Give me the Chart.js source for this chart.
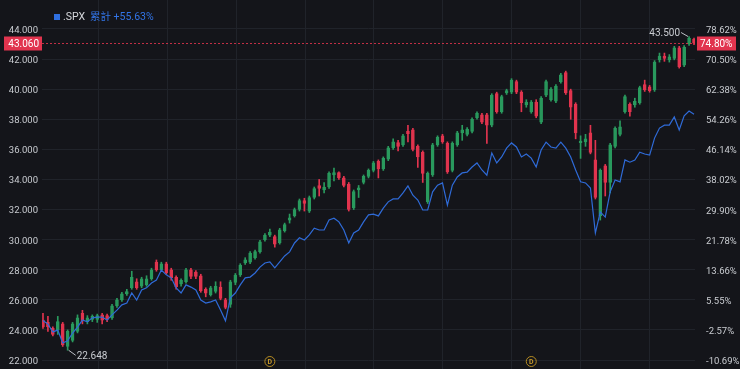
<!DOCTYPE html>
<html>
<head>
<meta charset="utf-8">
<script src="https://cdn.jsdelivr.net/npm/chart.js@4.4.1/dist/chart.umd.min.js"></script>
<style>
  html, body { margin: 0; padding: 0; background: #14151a; }
  #wrap { width: 740px; height: 369px; position: relative; }
</style>
</head>
<body>
<div id="wrap"><canvas id="kline"></canvas></div>
<script>
// weekly candles
const opens = [24.66,24.5,24.1,24.0,24.4,22.9,23.3,23.9,25.1,24.55,
  24.7,24.7,25.0,24.95,24.8,25.6,26.0,26.4,26.8,27.2,
  26.9,27.0,27.4,28.5,28.0,28.4,28.0,27.5,27.05,27.2,
  28.0,27.85,27.6,26.7,26.35,26.55,26.85,26.0,25.7,27.15,
  27.65,28.45,28.5,28.8,29.2,30.0,30.3,30.2,29.8,30.6,
  31.3,31.6,32.0,32.6,31.9,32.8,33.6,33.3,33.5,34.3,
  34.45,34.1,33.7,32.1,33.3,33.8,34.2,34.6,35.2,34.7,
  35.35,36.1,36.45,36.3,37.2,37.3,36.2,35.8,32.5,34.3,
  36.3,36.9,36.4,34.6,36.3,37.1,37.0,37.2,38.1,38.3,
  38.3,37.6,39.7,38.5,39.75,39.8,40.5,39.8,38.95,38.5,
  39.15,37.8,39.6,39.3,39.2,40.5,41.1,39.9,39.0,36.45,
  36.5,37.1,35.3,31.6,34.9,33.8,36.2,37.0,38.5,39.0,
  38.95,39.1,40.3,40.15,39.95,41.95,42.2,41.95,42.05,42.75,
  41.6,43.0,43.33];
const closes = [24.2,24.2,23.7,24.55,23.0,23.9,24.4,24.8,24.6,24.8,
  24.9,24.95,24.65,24.7,25.6,26.0,26.4,26.55,27.5,26.8,
  27.4,27.4,28.0,28.0,28.4,27.8,27.45,26.85,27.3,28.0,
  27.55,27.55,26.6,26.45,26.8,26.9,26.1,25.5,27.2,27.65,
  28.3,28.65,29.1,29.2,29.85,30.3,30.5,29.7,30.65,31.0,
  31.45,32.0,32.6,32.4,32.8,33.4,33.4,33.5,34.4,34.45,
  34.1,33.6,32.0,33.2,33.45,34.2,34.6,35.1,34.7,35.4,
  36.1,36.5,36.2,36.9,37.05,36.0,35.5,34.4,34.4,36.3,
  36.8,36.5,34.5,36.4,37.1,37.3,37.35,38.0,38.4,37.8,
  37.6,39.6,38.5,39.5,39.9,40.6,39.8,39.1,39.15,39.15,
  38.2,39.4,40.5,40.0,40.2,40.95,39.75,38.8,37.1,36.55,
  36.7,35.8,32.8,34.6,33.8,36.3,37.4,37.5,39.5,38.5,
  39.2,40.1,39.95,39.9,41.8,42.2,42.05,42.15,42.75,41.5,
  42.8,43.4,43.06];
const highs = [25.1,24.9,24.2,24.9,24.5,24.0,24.5,25.0,25.3,24.95,
  25.0,25.05,25.1,25.05,25.7,26.1,26.5,26.7,27.9,27.4,
  27.5,27.6,28.1,28.65,28.5,28.5,28.1,27.6,27.4,28.1,
  28.1,27.95,27.7,26.8,26.9,27.2,27.2,26.1,27.3,27.75,
  28.4,28.8,29.2,29.3,29.95,30.4,30.7,30.3,30.75,31.1,
  31.7,32.1,32.7,32.75,32.9,33.5,34.0,33.8,34.5,34.75,
  34.5,34.2,33.8,33.3,33.6,34.3,34.7,35.2,35.3,35.5,
  36.2,36.7,36.6,37.0,37.6,37.4,36.3,35.9,34.5,36.4,
  36.9,37.0,36.5,36.5,37.2,37.6,37.45,38.1,38.5,38.4,
  38.4,39.7,39.8,39.6,40.0,40.7,40.6,39.9,39.3,39.25,
  39.3,39.5,40.6,40.1,40.3,41.05,41.2,40.0,39.1,36.9,
  37.0,37.6,36.6,34.7,35.0,36.4,37.5,37.9,39.6,39.1,
  39.4,40.2,40.6,40.25,41.9,42.4,42.4,42.3,42.85,42.85,
  42.9,43.5,43.4];
const lows = [24.1,23.9,23.6,23.7,22.9,22.648,23.2,23.8,24.4,24.4,
  24.55,24.5,24.4,24.55,24.7,25.5,25.9,26.3,26.7,26.7,
  26.8,26.9,27.3,27.9,27.9,27.7,27.3,26.7,26.9,27.1,
  27.4,27.4,26.5,26.2,26.25,26.45,26.0,25.4,25.5,27.0,
  27.55,28.35,28.4,28.7,29.1,29.9,30.2,29.5,29.7,30.5,
  31.1,31.5,31.9,31.9,31.8,32.7,32.9,33.1,33.4,33.9,
  34.0,33.5,31.9,32.0,32.8,33.7,34.1,34.5,34.1,34.6,
  35.25,36.0,35.9,36.2,36.5,35.9,34.8,33.8,32.4,34.2,
  36.2,36.4,34.4,34.5,36.2,36.6,36.9,37.1,38.0,37.7,
  36.4,37.5,38.4,38.4,39.65,39.7,39.7,38.5,38.8,38.4,
  38.1,37.7,39.5,39.2,39.1,40.4,39.65,38.0,36.7,35.4,
  36.2,35.7,32.7,31.3,32.9,33.1,36.1,36.9,38.4,38.2,
  38.8,39.0,39.85,39.8,39.85,41.8,41.85,41.8,41.95,41.4,
  41.5,42.9,42.95];
// .SPX cumulative return, %
const spxPct = [0.0,-1.0,-3.1,-2.6,-6.1,-5.5,-3.4,-1.8,0.1,-0.4,
  0.7,0.9,0.9,0.1,1.5,2.8,4.2,4.7,7.4,5.5,
  8.2,8.8,10.1,10.9,13.6,12.3,11.5,8.8,7.4,9.6,
  9.0,8.2,5.5,4.7,5.0,5.5,2.8,-0.1,6.1,7.4,
  9.6,11.5,11.7,12.8,14.4,15.5,15.8,14.2,15.8,17.4,
  18.5,20.9,22.3,21.7,23.1,24.9,24.4,24.4,27.1,27.6,
  26.6,24.4,20.9,23.6,24.4,26.6,28.5,28.7,28.2,30.3,
  32.0,32.8,32.8,34.4,36.3,33.8,32.5,29.8,29.8,34.7,
  36.5,37.1,31.1,36.5,38.7,39.8,40.0,41.4,42.5,40.6,
  39.2,45.2,42.5,44.1,46.5,47.9,46.8,44.1,44.9,43.8,
  41.4,46.0,48.1,46.8,46.5,48.1,46.5,44.1,40.6,37.4,
  37.1,35.7,23.6,29.3,27.9,34.7,37.9,37.4,43.3,42.7,
  43.3,45.4,44.9,44.6,49.2,51.9,52.7,52.7,54.9,51.4,
  55.2,56.5,55.63];
const priceTicks = [22, 24, 26, 28, 30, 32, 34, 36, 38, 40, 42, 44];
const pctTicks = [-10.69, -2.57, 5.55, 13.66, 21.78, 29.90, 38.02, 46.14, 54.26, 62.38, 70.50, 78.62];
const dividendWeeks = [46, 99];
const basePrice = 24.63;
const lastClose = 43.06;
const lastPct = 74.80;
const spxTotal = 55.63;

const UP = '#2a9a5e', UP_FILL = 'rgba(42,154,94,0.22)', DOWN = '#e1344e';
const isUp = closes.map((c, i) => c >= opens[i]);
const toPct = v => (v / basePrice - 1) * 100;
const yMin = 21.402, yMax = 45.927;
const FONT = 'Roboto, "Noto Sans", sans-serif';

const overlay = {
  id: 'overlay',
  afterDraw(chart) {
    const { ctx, chartArea: a, scales } = chart;
    const x = scales.x, y = scales.y;
    ctx.save();
    // last price dashed line
    const py = Math.round(y.getPixelForValue(lastClose)) + 0.5;
    ctx.strokeStyle = 'rgba(225,52,78,0.85)';
    ctx.setLineDash([2, 2]);
    ctx.lineWidth = 1;
    ctx.beginPath(); ctx.moveTo(a.left, py); ctx.lineTo(a.right, py); ctx.stroke();
    ctx.setLineDash([]);
    ctx.fillStyle = DOWN;
    ctx.fillRect(4, py - 7, 38, 14);
    ctx.fillRect(a.right + 2, py - 7, 39, 14);
    ctx.fillStyle = '#ffffff';
    ctx.font = '10px ' + FONT;
    ctx.textBaseline = 'middle';
    ctx.textAlign = 'right';
    ctx.fillText(lastClose.toFixed(3), 39, py + 1);
    ctx.textAlign = 'left';
    ctx.fillText(lastPct.toFixed(2) + '%', a.right + 5, py + 1);

    // max / min markers
    const hi = Math.max(...highs), lo = Math.min(...lows);
    const hiI = highs.indexOf(hi), loI = lows.indexOf(lo);
    ctx.strokeStyle = '#bfc2c8';
    ctx.fillStyle = '#c9ccd1';
    ctx.font = '10px ' + FONT;
    const hx = x.getPixelForValue(hiI), hy = y.getPixelForValue(hi);
    ctx.beginPath(); ctx.moveTo(hx - 1, hy); ctx.lineTo(hx - 8, hy - 4); ctx.stroke();
    ctx.textAlign = 'right';
    ctx.fillText(hi.toFixed(3), hx - 9, hy - 3);
    const lx = x.getPixelForValue(loI), ly = y.getPixelForValue(lo);
    ctx.beginPath(); ctx.moveTo(lx + 1, ly); ctx.lineTo(lx + 8, ly + 5); ctx.stroke();
    ctx.textAlign = 'left';
    ctx.fillText(lo.toFixed(3), lx + 9, ly + 6);

    // dividend markers
    dividendWeeks.forEach(w => {
      const dx = x.getPixelForValue(w), dy = 361.5;
      ctx.strokeStyle = '#b48b22';
      ctx.lineWidth = 1;
      ctx.beginPath(); ctx.arc(dx, dy, 5, 0, Math.PI * 2); ctx.stroke();
      ctx.fillStyle = '#c99a2a';
      ctx.font = 'bold 7px ' + FONT;
      ctx.textAlign = 'center';
      ctx.fillText('D', dx, dy + 0.5);
    });

    // legend
    ctx.fillStyle = '#2f6fe0';
    ctx.fillRect(54, 14, 6, 6);
    ctx.font = '10.5px ' + FONT;
    ctx.textAlign = 'left';
    ctx.fillStyle = '#d5d7db';
    ctx.fillText('.SPX', 63, 17.5);
    ctx.fillStyle = '#3274e6';
    ctx.font = '10.5px ' + FONT + ', "Noto Sans CJK TC"';
    ctx.fillText('累計 +' + spxTotal.toFixed(2) + '%', 90, 17.5);
    ctx.restore();
  }
};

new Chart(document.getElementById('kline'), {
  type: 'bar',
  data: {
    datasets: [
      {
        type: 'line',
        data: spxPct.map((v, i) => ({ x: i, y: v })),
        yAxisID: 'y1',
        borderColor: '#2f6bd8',
        borderWidth: 1.2,
        pointRadius: 0,
        tension: 0,
        order: 1
      },
      {
        data: opens.map((o, i) => ({ x: i, y: [o, closes[i]] })),
        yAxisID: 'y',
        backgroundColor: isUp.map(u => u ? UP_FILL : DOWN),
        borderColor: isUp.map(u => u ? UP : DOWN),
        borderWidth: 1,
        borderSkipped: false,
        barThickness: 3,
        minBarLength: 1,
        grouped: false,
        order: 2
      },
      {
        data: highs.map((h, i) => ({ x: i, y: [lows[i], h] })),
        yAxisID: 'y',
        backgroundColor: isUp.map(u => u ? UP : DOWN),
        barThickness: 1,
        grouped: false,
        order: 3
      }
    ]
  },
  options: {
    responsive: true,
    maintainAspectRatio: false,
    animation: false,
    layout: { padding: 0 },
    plugins: { legend: { display: false }, tooltip: { enabled: false } },
    scales: {
      x: {
        type: 'linear',
        min: -0.2,
        max: 132.2,
        offset: false,
        ticks: { display: false },
        border: { display: false },
        grid: { color: '#20232a', drawTicks: false },
        afterBuildTicks(s) {
          const t = [];
          for (let v = 18.25; v < s.max; v += 13.95) t.push({ value: v });
          s.ticks = t;
        },
        afterFit(s) { s.height = 0; }
      },
      y: {
        position: 'left',
        min: yMin,
        max: yMax,
        border: { display: false },
        grid: { color: '#20232a', drawTicks: false },
        ticks: {
          color: '#c9ccd1',
          font: { size: 9.5, family: FONT },
          padding: 4,
          labelOffset: 1.5,
          callback: v => v.toFixed(3)
        },
        afterBuildTicks(s) { s.ticks = priceTicks.map(v => ({ value: v })); },
        afterFit(s) { s.width = 42; s.paddingTop = 0; s.paddingBottom = 0; }
      },
      y1: {
        position: 'right',
        min: toPct(yMin),
        max: toPct(yMax),
        border: { display: false },
        grid: { display: false },
        ticks: {
          color: '#c9ccd1',
          font: { size: 9.5, family: FONT },
          padding: 3,
          labelOffset: 1.5,
          callback: v => v.toFixed(2) + '%'
        },
        afterBuildTicks(s) { s.ticks = pctTicks.map(v => ({ value: v })); },
        afterFit(s) { s.width = 45; s.paddingTop = 0; s.paddingBottom = 0; }
      }
    }
  },
  plugins: [overlay]
});
</script>
</body>
</html>
